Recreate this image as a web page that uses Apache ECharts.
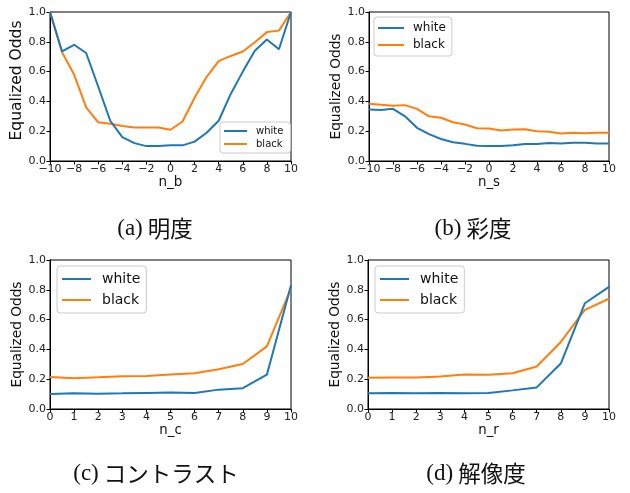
<!DOCTYPE html>
<html>
<head>
<meta charset="utf-8">
<script src="https://cdn.jsdelivr.net/npm/echarts@6/dist/echarts.min.js"></script>
<style>html,body{margin:0;padding:0;background:#fff;}#c{width:630px;height:493px;}</style>
</head>
<body>
<div id="c"></div>
<script>
// ---- data ----
var xSym = [-10,-9,-8,-7,-6,-5,-4,-3,-2,-1,0,1,2,3,4,5,6,7,8,9,10];
var xPos = [0,1,2,3,4,5,6,7,8,9,10];

var bWhite = [1.0,0.735,0.78,0.725,0.50,0.27,0.16,0.12,0.10,0.10,0.105,0.105,0.13,0.19,0.27,0.45,0.60,0.74,0.815,0.75,1.0];
var bBlack = [1.0,0.73,0.58,0.36,0.26,0.25,0.235,0.225,0.225,0.225,0.21,0.265,0.425,0.565,0.67,0.705,0.735,0.797,0.865,0.875,1.0];

var sWhite = [0.345,0.343,0.35,0.30,0.223,0.18,0.148,0.126,0.115,0.102,0.10,0.10,0.105,0.114,0.114,0.12,0.117,0.122,0.122,0.117,0.118];
var sBlack = [0.385,0.378,0.37,0.375,0.35,0.30,0.29,0.26,0.245,0.22,0.218,0.205,0.212,0.213,0.20,0.197,0.185,0.19,0.187,0.19,0.19];

var cWhite = [0.10,0.105,0.103,0.105,0.108,0.11,0.107,0.13,0.14,0.23,0.83];
var cBlack = [0.215,0.207,0.213,0.22,0.222,0.232,0.24,0.267,0.302,0.42,0.81];

var rWhite = [0.105,0.108,0.105,0.108,0.105,0.107,0.125,0.145,0.305,0.71,0.82];
var rBlack = [0.21,0.212,0.212,0.218,0.232,0.23,0.24,0.285,0.45,0.665,0.74];

var xNames = ['n_b','n_s','n_c','n_r'];
var yName = 'Equalized Odds';
var seriesNames = ['white','black'];
var captionTags = ['(a)','(b)','(c)','(d)'];
var captionTexts = ['明度','彩度','コントラスト','解像度'];

// ---- layout ----
var BLUE = '#1f77b4', ORANGE = '#ff7f0e';
var grids = [
  {left:50, top:12, width:241, height:149},
  {left:369, top:12, width:240, height:149},
  {left:50, top:260, width:241, height:149},
  {left:368, top:260, width:241, height:149}
];
var xRanges = [[-10,10,2],[-10,10,2],[0,10,1],[0,10,1]];
var xData = [xSym, xSym, xPos, xPos];
var ys = [[bWhite,bBlack],[sWhite,sBlack],[cWhite,cBlack],[rWhite,rBlack]];

function pairs(xs, vs){ return xs.map(function(x,i){ return [x, vs[i]]; }); }

var FONT = "'DejaVu Sans', sans-serif";
var xAxes = [], yAxes = [], series = [];
grids.forEach(function(g, i){
  xAxes.push({
    type:'value', gridIndex:i, min:xRanges[i][0], max:xRanges[i][1], interval:xRanges[i][2],
    name:xNames[i], nameLocation:'middle', nameGap:14,
    nameTextStyle:{fontFamily:FONT, fontSize:i===0?13.5:13.3, color:'#111'},
    axisLine:{show:true, onZero:false, lineStyle:{color:'#000', width:1}},
    axisTick:{show:true, inside:false, length:3.5, lineStyle:{color:'#000'}},
    axisLabel:{fontFamily:FONT, fontSize:11, color:'#222', margin:3,
      formatter:function(v){ return String(v).replace('-', '\u2212'); }},
    splitLine:{show:false}
  });
  yAxes.push({
    type:'value', gridIndex:i, min:0, max:1, interval:0.2,
    name:yName, nameLocation:'middle', nameGap:i===0?23:25,
    nameTextStyle:{fontFamily:FONT, fontSize:i===0?15.5:13.7, color:'#111',
      padding:i===0?[0,0,0,12]:0},
    axisLine:{show:true, onZero:false, lineStyle:{color:'#000', width:1}},
    axisTick:{show:true, inside:false, length:3.5, lineStyle:{color:'#000'}},
    axisLabel:{fontFamily:FONT, fontSize:11, color:'#222', margin:4,
      formatter:function(v){ return v.toFixed(1); }},
    splitLine:{show:false}
  });
  [BLUE, ORANGE].forEach(function(col, k){
    series.push({
      type:'line', name:seriesNames[k], xAxisIndex:i, yAxisIndex:i,
      data:pairs(xData[i], ys[i][k]), symbol:'none', smooth:false,
      lineStyle:{color:col, width:2}, itemStyle:{color:col}, z:k===0?3:2
    });
  });
});

function legendCfg(left, top, fs, iw, gap, pad, tpad){
  return {
    left:left, top:top, orient:'vertical', data:seriesNames,
    icon:'rect', itemWidth:iw, itemHeight:2, itemGap:gap,
    padding:pad, borderColor:'#cccccc', borderWidth:1, borderRadius:3,
    backgroundColor:'rgba(255,255,255,0.85)', selectedMode:false,
    textStyle:{fontFamily:FONT, fontSize:fs, color:'#111', padding:[0,0,0,tpad]}
  };
}
var legends = [
  legendCfg(220, 122, 10, 23, 3, [4,7,4,4], 4),
  legendCfg(374, 17, 12, 26, 5, [5,6,5,4], 4),
  legendCfg(57, 266, 14, 29, 7, [6,6,6,5], 6),
  legendCfg(375, 266, 14, 29, 7, [6,6,6,5], 6)
];

var capCenters = [[155,217],[473,217],[156,462],[476,462]];
var titles = capCenters.map(function(c, i){
  return {
    text:'{t|' + captionTags[i] + '} {j|' + captionTexts[i] + '}',
    left:c[0], top:c[1], textAlign:'center', padding:0,
    textStyle:{fontWeight:'normal', rich:{
      t:{fontFamily:"'Liberation Serif', serif", fontSize:23, color:'#111', fontWeight:'normal'},
      j:{fontFamily:"'Noto Sans CJK JP', sans-serif", fontSize:22.5, color:'#111', fontWeight:'normal'}
    }}
  };
});

var chart = echarts.init(document.getElementById('c'), null, {renderer:'canvas'});
chart.setOption({
  animation:false,
  backgroundColor:'#fff',
  title:titles,
  grid:grids.map(function(g){ return Object.assign({show:true, borderColor:'#000', borderWidth:1, backgroundColor:'transparent'}, g); }),
  xAxis:xAxes, yAxis:yAxes, legend:legends, series:series
});
</script>
</body>
</html>
